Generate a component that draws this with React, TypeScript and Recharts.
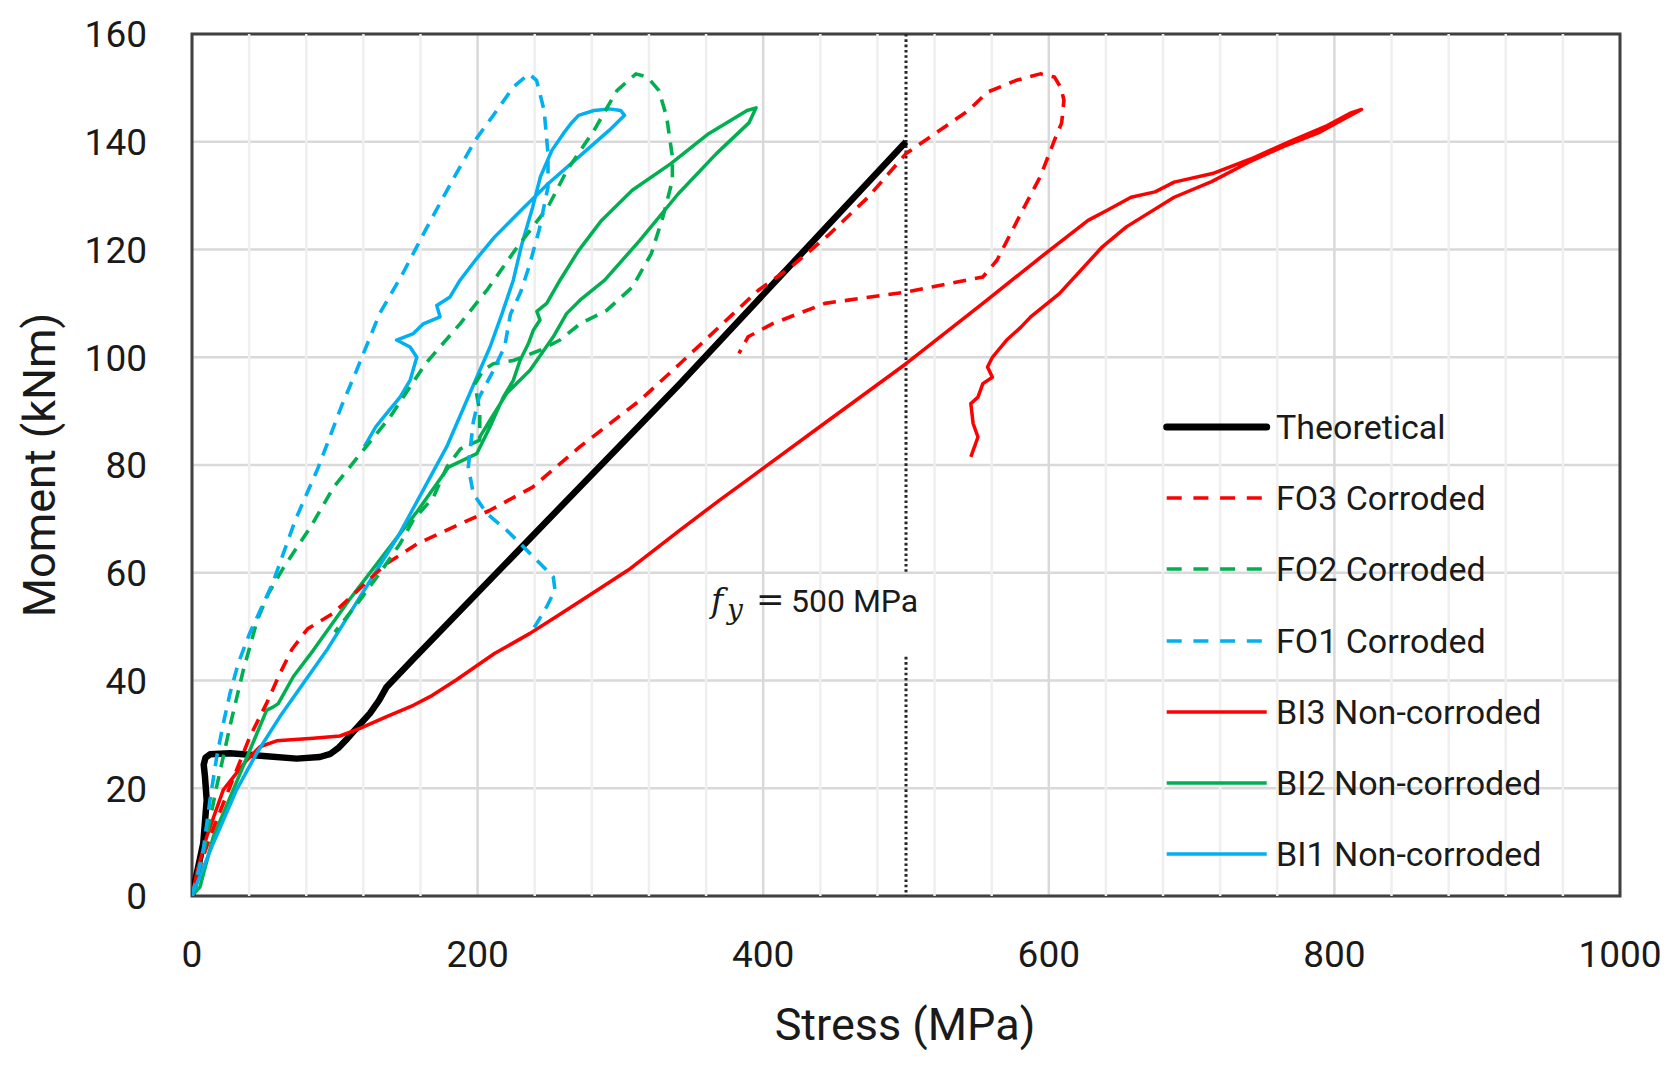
import { LineChart, Line, XAxis, YAxis, CartesianGrid, ReferenceLine, ReferenceArea, Legend } from "recharts";

type Pt = [number, number];

// stress (MPa), moment (kNm)
const theoreticalPts: Pt[] = [
  [0, 0], [4, 5], [7.9, 9.8], [10.3, 17.8], [9.1, 22.1], [8.2, 24.4], [9.5, 25.7], [12.6, 26.3],
  [26.6, 26.5], [50, 26], [73.3, 25.5], [89.6, 25.8], [97, 26.4], [103, 27.6], [108, 29],
  [113, 30.5], [124.6, 33.9], [131, 36.3], [136.3, 38.8], [155, 44], [341.7, 95.1], [500, 140],
];

const fo3Pts: Pt[] = [
  [0, 0], [5, 5], [12.6, 11], [26.6, 20.3], [40.6, 29.6], [52.3, 35.8], [61.6, 41.3], [70, 45.8],
  [81, 49.6], [99, 52.5], [126, 59.2], [136.3, 61.7], [158, 65.4], [208.7, 71.6], [238.6, 75.9],
  [271.7, 83.4], [313.7, 92], [341.7, 98.8], [396.4, 112.4], [419.7, 116.8], [446.6, 122.9],
  [473.4, 129.7], [500, 137.8], [520.3, 141.5], [543.7, 145.8], [557, 149.2], [577.2, 151.4],
  [594, 152.6], [604, 152], [608.5, 150], [610.6, 147.7], [609, 143.5], [604, 140.3], [594, 133.5],
  [580.5, 126.7], [563.7, 118], [553.8, 114.9], [500, 112.1], [443.2, 110], [406.3, 106.2],
  [389.4, 103.8], [383, 100.7],
];

const fo2Pts: Pt[] = [
  [0, 0], [8, 8], [17, 20], [27, 32], [36, 42], [45.7, 51.2], [53.6, 56.2], [64.4, 61.1],
  [83.1, 68.5], [99.2, 75.9], [118, 82.1], [138.7, 88.9], [163.5, 98.8], [187.7, 106.2],
  [206.4, 112.4], [227.9, 120.5], [249.3, 127.9], [262.6, 134.7], [281.5, 142.1], [297.6, 149.5],
  [310.9, 152.6], [319, 152], [327, 149.5], [332.4, 144.6], [336.4, 137.2], [336.4, 132.8],
  [329.7, 126], [321.6, 119.2], [308.3, 113], [290.4, 108.7], [271.7, 106.2], [257.7, 103.2],
  [243.7, 101.3], [225, 99.4], [211, 98.8], [204, 97.6], [198, 95], [201.5, 90], [201.5, 84.6],
  [188, 83], [178.4, 79.6], [169, 74], [155, 69.8], [145.7, 65.4], [131.4, 59.9], [115, 54], [100, 49],
];

const fo1Pts: Pt[] = [
  [0, 0], [4, 4], [7.9, 8.5], [12.6, 17.8], [17.3, 25.8], [21.9, 32], [26.6, 37.6], [32.4, 43.2],
  [40.3, 48.7], [56.4, 58], [72.4, 69.8], [88.5, 79.6], [104.5, 90.8], [115.3, 97.6], [131.4, 108.1],
  [147.5, 115.5], [163.5, 123.6], [182.3, 132.8], [198.4, 140.3], [211.8, 145.2], [225.2, 150.2],
  [235.9, 152.6], [241.3, 151.4], [246.6, 145.8], [249.3, 137.8], [249.3, 131.6], [243, 123.5],
  [236, 116.8], [230, 112], [223, 108], [219, 102], [210, 97], [201, 92.5], [197, 88], [195, 83.4],
  [193.5, 79.6], [197, 74.7], [206.4, 71], [220.4, 67.9], [234.4, 64.2], [246, 61.1], [253, 59.2],
  [254.2, 56.8], [248.4, 53.7], [241.4, 50.6], [236.7, 48.7],
];

const bi3Pts: Pt[] = [
  [0, 0], [4, 5], [10.3, 11], [21.9, 19.7], [38.3, 25.2], [47.6, 27.7], [59.3, 28.8], [84.9, 29.3],
  [103.6, 29.7], [117.6, 31.1], [136.3, 33.3], [155, 35.4], [166.7, 37], [185, 40.1], [211.8, 45],
  [236.4, 48.7], [254.7, 51.8], [276.4, 55.5], [305.5, 60.5], [341.7, 67.9], [369.5, 73.5],
  [388.7, 77.2], [436.5, 86.5], [500, 98.8], [553.8, 110], [597.3, 119.2], [627.5, 125.4],
  [640.9, 127.3], [657.6, 129.7], [674.4, 130.7], [687.8, 132.5], [714.6, 134.1], [741.4, 136.8],
  [768.2, 140], [795, 143], [811, 145.3], [819, 146], [805, 144], [790, 141.8], [765, 139.2],
  [740, 136.2], [714, 132.6], [687.8, 129.7], [654.3, 124.2], [637.5, 120.5], [607.4, 111.8],
  [587.3, 107.5], [580.5, 105.6], [570.5, 103.2], [560.5, 100], [557.1, 98.2], [560.5, 96.3],
  [553.8, 95.1], [550.4, 92.6], [545.4, 91.4], [547, 87.7], [550.4, 85.2], [545.4, 81.5],
];

const bi2Pts: Pt[] = [
  [0, 0], [5.6, 1.7], [14.9, 11], [28.9, 19.7], [40.6, 27.1], [52.3, 34.5], [57, 35.1], [60.4, 35.7],
  [70.9, 40.7], [84.9, 45.6], [109.9, 54.9], [136.8, 64.2], [158.3, 71.6], [179.6, 79.6], [199.4, 82.1],
  [208.7, 87.1], [218, 92.6], [225, 95.7], [229.7, 99.4], [235.5, 102.5], [239, 105], [243.7, 106.9],
  [241.5, 108.5], [248.4, 110], [257.7, 114.3], [270.7, 119.8], [286.8, 125.4], [308.3, 131],
  [335.1, 135.9], [361.8, 141.5], [388.7, 145.8], [395, 146.3], [390, 143.5], [367.2, 137.8],
  [340.4, 130.3], [313.6, 121.7], [289, 114.3], [271.7, 110.6], [262.3, 108.1], [253, 103.8],
  [236.7, 97.6], [220.4, 93.3], [208.7, 88.3], [201, 85],
];

const bi1Pts: Pt[] = [
  [0, 0], [6, 4], [14.9, 9.8], [31.2, 19.7], [45.3, 26.5], [61.6, 33.3], [78, 39.5], [94.3, 45.6],
  [120.7, 56.8], [144.8, 67], [178.4, 83.4], [197, 94.8], [208.7, 101.9], [217, 108], [225, 114.3],
  [230.5, 120.5], [238.6, 127.9], [244, 133.5], [252, 138.4], [260, 141.5], [265.4, 143.4],
  [270.7, 144.9], [281.5, 145.8], [292.1, 146.1], [300.2, 145.8], [302.9, 144.9], [292.1, 142.1],
  [278.7, 139], [262.7, 135.3], [249.3, 132.2], [230.5, 127.3], [211.8, 122.3], [198.4, 118],
  [187.7, 114.3], [180.7, 111.2], [171.4, 109.6], [173.7, 107.5], [162, 106.2], [155, 104.4],
  [143.3, 103.2], [152.7, 101.9], [157.4, 100], [152.7, 95.7], [145.7, 92.6], [136.3, 89.6],
  [128.7, 87.1], [120.7, 83.4],
];

const stressTicks = [0, 200, 400, 600, 800, 1000];
const stressMinorTicks = [40, 80, 120, 160, 240, 280, 320, 360, 440, 480, 520, 560, 640, 680, 720, 760, 840, 880, 920, 960];
const momentTicks = [0, 20, 40, 60, 80, 100, 120, 140, 160];

const toRows = (pts: Pt[]) => pts.map(([stress, moment]) => ({ stress, moment }));

const RED = "#ff0000";
const GREEN = "#00b050";
const BLUE = "#00b0f0";
const FONT = "Roboto, 'Noto Sans', sans-serif";
const DASH = "13 9";

const series = [
  { name: "Theoretical", pts: theoreticalPts, color: "#000", width: 6.5, dash: undefined },
  { name: "BI3 Non-corroded", pts: bi3Pts, color: RED, width: 3.5, dash: undefined },
  { name: "BI2 Non-corroded", pts: bi2Pts, color: GREEN, width: 3.5, dash: undefined },
  { name: "BI1 Non-corroded", pts: bi1Pts, color: BLUE, width: 3.5, dash: undefined },
  { name: "FO3 Corroded", pts: fo3Pts, color: RED, width: 3.6, dash: DASH },
  { name: "FO2 Corroded", pts: fo2Pts, color: GREEN, width: 3.6, dash: DASH },
  { name: "FO1 Corroded", pts: fo1Pts, color: BLUE, width: 3.6, dash: DASH },
];

const legendOrder = [
  "Theoretical", "FO3 Corroded", "FO2 Corroded", "FO1 Corroded",
  "BI3 Non-corroded", "BI2 Non-corroded", "BI1 Non-corroded",
];

const renderLegend = () => (
  <div style={{ fontFamily: FONT, fontSize: 34, color: "#1a1a1a" }}>
    {legendOrder.map((name) => {
      const s = series.find((x) => x.name === name)!;
      return (
        <div key={name} style={{ display: "flex", alignItems: "center", height: 71.3 }}>
          <svg width={112} height={20} style={{ display: "block" }}>
            <line
              x1={6.7}
              x2={106.7}
              y1={10}
              y2={10}
              stroke={s.color}
              strokeWidth={s.name === "Theoretical" ? 7 : 3.6}
              strokeDasharray={s.dash ? "15 11.7" : undefined}
              strokeLinecap={s.name === "Theoretical" ? "round" : "butt"}
            />
          </svg>
          <span style={{ marginLeft: 4, lineHeight: 1 }}>{name}</span>
        </div>
      );
    })}
  </div>
);

const XTick = (props: any) => (
  <text x={props.x} y={967} textAnchor="middle" fontFamily={FONT} fontSize={37} fill="#1a1a1a">
    {props.payload.value}
  </text>
);

const YTick = (props: any) => (
  <text x={147} y={props.y} dy="0.36em" textAnchor="end" fontFamily={FONT} fontSize={37} fill="#1a1a1a">
    {props.payload.value}
  </text>
);

const fyLabel = () => (
  <g fill="#1a1a1a">
    <text x={711} y={612} fontFamily="'DejaVu Serif', serif" fontStyle="italic" fontSize={33}>f</text>
    <text x={727} y={619} fontFamily="'DejaVu Serif', serif" fontStyle="italic" fontSize={28}>y</text>
    <text x={756} y={611} fontFamily="'DejaVu Sans', sans-serif" fontSize={34}>=</text>
    <text x={791} y={612} fontFamily={FONT} fontSize={32}>500 MPa</text>
  </g>
);

const xTitle = () => (
  <text x={905} y={1040} textAnchor="middle" fontFamily={FONT} fontSize={45} fill="#1a1a1a">
    Stress (MPa)
  </text>
);

const yTitle = () => (
  <text
    x={55}
    y={465}
    transform="rotate(-90 55 465)"
    textAnchor="middle"
    fontFamily={FONT}
    fontSize={45}
    fill="#1a1a1a"
  >
    Moment (kNm)
  </text>
);

export default function App() {
  return (
    <div style={{ position: "absolute", left: 0, top: 0, width: 1673, height: 1066, background: "#fff" }}>
      <LineChart width={1673} height={1066} margin={{ top: 34, right: 53, bottom: 0, left: 0 }}>
        <CartesianGrid stroke="#d9d9d9" strokeWidth={2.5} />
        <XAxis
          type="number"
          dataKey="stress"
          domain={[0, 1000]}
          ticks={stressTicks}
          height={170}
          axisLine={false}
          tickLine={false}
          tick={XTick}
          label={xTitle}
          allowDataOverflow
        />
        <YAxis
          type="number"
          dataKey="moment"
          domain={[0, 160]}
          ticks={momentTicks}
          width={192}
          axisLine={false}
          tickLine={false}
          tick={YTick}
          label={yTitle}
          allowDataOverflow
        />
        {stressMinorTicks.map((v) => (
          <ReferenceLine key={`minor-${v}`} x={v} stroke="#efefef" strokeWidth={2.5} />
        ))}
        <ReferenceLine
          segment={[{ x: 500, y: 160 }, { x: 500, y: 60.2 }]}
          stroke="#262626"
          strokeWidth={3}
          strokeDasharray="2.6 2.7"
        />
        <ReferenceLine
          segment={[{ x: 500, y: 44.4 }, { x: 500, y: 0 }]}
          stroke="#262626"
          strokeWidth={3}
          strokeDasharray="2.6 2.7"
          label={fyLabel}
        />
        {series.map((s) => (
          <Line
            key={s.name}
            data={toRows(s.pts)}
            dataKey="moment"
            name={s.name}
            type="linear"
            stroke={s.color}
            strokeWidth={s.width}
            strokeDasharray={s.dash}
            strokeLinejoin="round"
            dot={false}
            activeDot={false}
            isAnimationActive={false}
          />
        ))}
        <ReferenceArea x1={0} x2={1000} y1={0} y2={160} fill="none" fillOpacity={0} stroke="#404040" strokeWidth={3} />
        <Legend
          layout="vertical"
          align="center"
          verticalAlign="middle"
          content={renderLegend}
          wrapperStyle={{ left: 1160, top: 391, width: 460, height: 500 }}
        />
      </LineChart>
    </div>
  );
}
